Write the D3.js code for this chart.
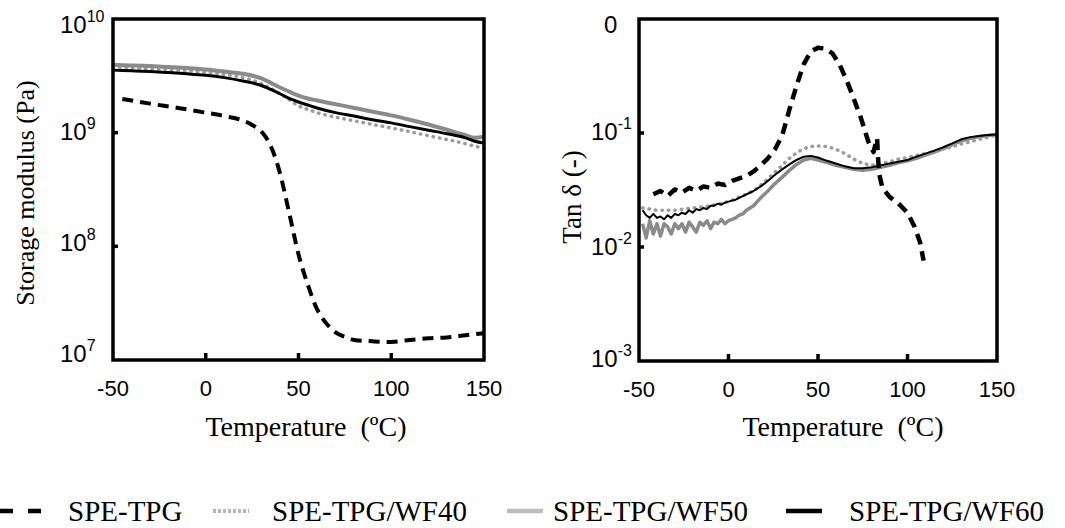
<!DOCTYPE html>
<html>
<head>
<meta charset="utf-8">
<script src="https://cdn.jsdelivr.net/npm/d3@7"></script>
<style>
  body { margin: 0; background: #fff; }
  svg { display: block; }
</style>
</head>
<body>
<script>
// storage modulus panel (Pa)
const tempsE = [-50,-40,-30,-20,-10,0,10,20,30,35,40,45,50,55,60,70,80,90,100,110,120,130,140,145,150];
const modWF50 = [3.95e9,3.9e9,3.85e9,3.78e9,3.7e9,3.6e9,3.45e9,3.3e9,3.0e9,2.75e9,2.5e9,2.3e9,2.12e9,2.0e9,1.92e9,1.78e9,1.65e9,1.53e9,1.42e9,1.3e9,1.18e9,1.06e9,9.5e8,9.0e8,9.2e8];
const modWF60 = [3.55e9,3.5e9,3.45e9,3.38e9,3.3e9,3.2e9,3.05e9,2.85e9,2.6e9,2.4e9,2.2e9,2.0e9,1.86e9,1.75e9,1.65e9,1.5e9,1.4e9,1.3e9,1.22e9,1.13e9,1.05e9,9.8e8,9.0e8,8.4e8,8.1e8];
const modWF40 = [3.8e9,3.72e9,3.65e9,3.58e9,3.5e9,3.4e9,3.25e9,3.05e9,2.7e9,2.45e9,2.2e9,1.95e9,1.72e9,1.6e9,1.5e9,1.37e9,1.27e9,1.18e9,1.1e9,1.02e9,9.4e8,8.7e8,8.0e8,7.6e8,7.3e8];
const tempsTPG = [-45,-30,-15,0,10,20,25,30,33,36,40,45,50,55,60,65,70,75,80,90,100,110,120,130,140,150];
const modTPG = [1.98e9,1.8e9,1.65e9,1.5e9,1.4e9,1.28e9,1.17e9,1.02e9,8.8e8,7e8,4.4e8,1.96e8,8.5e7,4.6e7,2.8e7,2.1e7,1.75e7,1.6e7,1.5e7,1.46e7,1.44e7,1.5e7,1.55e7,1.58e7,1.65e7,1.72e7];

// tan delta panel
const tempsT = [-48,-46,-44,-42,-40,-38,-36,-34,-32,-30,-28,-26,-24,-22,-20,-18,-16,-14,-12,-10,-8,-6,-4,-2,0,2,4,6,8,10,14,18,22,26,30,34,38,42,46,50,55,60,65,70,75,80,85,90,95,100,105,110,115,120,125,130,135,140,145,150];
const tanWF50 = [0.016,0.012,0.017,0.013,0.016,0.0125,0.016,0.015,0.013,0.016,0.0145,0.016,0.0135,0.0165,0.015,0.0135,0.0165,0.0155,0.017,0.0145,0.0165,0.016,0.0175,0.016,0.017,0.0175,0.018,0.019,0.0195,0.021,0.023,0.027,0.031,0.036,0.041,0.047,0.053,0.058,0.06,0.058,0.055,0.052,0.05,0.048,0.047,0.048,0.05,0.052,0.055,0.057,0.06,0.064,0.068,0.073,0.079,0.085,0.09,0.093,0.095,0.097];
const tanWF60 = [0.021,0.019,0.018,0.0195,0.018,0.0185,0.0175,0.019,0.018,0.0195,0.019,0.02,0.0195,0.021,0.02,0.0215,0.021,0.022,0.0215,0.023,0.023,0.024,0.0235,0.0245,0.025,0.0255,0.026,0.027,0.028,0.029,0.031,0.034,0.038,0.043,0.048,0.053,0.058,0.062,0.063,0.061,0.057,0.054,0.051,0.049,0.049,0.05,0.052,0.054,0.056,0.058,0.062,0.066,0.07,0.075,0.081,0.088,0.092,0.094,0.096,0.097];
const tempsT40 = [-48,-40,-30,-20,-10,0,5,10,15,20,25,30,35,40,45,50,55,60,65,70,75,80,85,90,95,100,110,120,130,140,150];
const tanWF40 = [0.022,0.021,0.021,0.022,0.023,0.025,0.027,0.029,0.032,0.037,0.044,0.052,0.062,0.07,0.076,0.077,0.076,0.072,0.066,0.059,0.054,0.052,0.054,0.056,0.059,0.061,0.066,0.072,0.08,0.088,0.096];
const tempsTTPG = [-42,-38,-34,-30,-26,-22,-18,-14,-10,-6,-2,2,6,10,14,18,22,26,30,34,38,42,46,50,54,58,62,66,70,74,78,81,83,84,86,90,95,100,104,107,109];
const tanTPG = [0.029,0.031,0.028,0.032,0.03,0.033,0.031,0.034,0.033,0.036,0.035,0.038,0.04,0.042,0.046,0.052,0.06,0.072,0.095,0.16,0.26,0.4,0.52,0.56,0.55,0.5,0.4,0.29,0.2,0.135,0.085,0.068,0.09,0.045,0.033,0.0275,0.024,0.02,0.015,0.011,0.0076];

const xTicks = [-50, 0, 50, 100, 150];
const seriesNames = ['SPE-TPG', 'SPE-TPG/WF40', 'SPE-TPG/WF50', 'SPE-TPG/WF60'];

const width = 1065, height = 528;
const sans = 'Liberation Sans, Arial, sans-serif';
const serif = 'Liberation Serif, Times New Roman, serif';

const styles = {
  'SPE-TPG': {stroke: '#000', width: 4, dash: '11,7', cap: 'butt'},
  'SPE-TPG/WF40': {stroke: '#9c9c9c', width: 3.5, dash: '0.5,6', cap: 'round'},
  'SPE-TPG/WF50': {stroke: '#8a8a8a', width: 4, dash: null, cap: 'butt'},
  'SPE-TPG/WF60': {stroke: '#000', width: 3, dash: null, cap: 'butt'}
};

const svg = d3.select('body').append('svg')
  .attr('width', width).attr('height', height);

function panel(opts) {
  const x = d3.scaleLinear().domain([-50, 150]).range([opts.left, opts.right]);
  const y = d3.scaleLog().domain(opts.yDomain).range([opts.bottom, opts.top]);
  const g = svg.append('g');

  const line = d3.line()
    .x(d => x(d[0]))
    .y(d => y(d[1]))
    .curve(opts.curve);

  opts.series.forEach(s => {
    const st = styles[s.name];
    g.append('path')
      .datum(d3.zip(s.t, s.v))
      .attr('d', line)
      .attr('fill', 'none')
      .attr('stroke', st.stroke)
      .attr('stroke-width', s.width || st.width)
      .attr('stroke-dasharray', st.dash)
      .attr('stroke-linecap', st.cap)
      .attr('stroke-linejoin', 'round');
  });

  // frame
  g.append('rect')
    .attr('x', opts.left).attr('y', opts.top)
    .attr('width', opts.right - opts.left).attr('height', opts.bottom - opts.top)
    .attr('fill', 'none').attr('stroke', '#000').attr('stroke-width', 3.5);

  // inner ticks
  g.selectAll('.xt').data([0, 50, 100]).enter().append('line')
    .attr('x1', d => x(d)).attr('x2', d => x(d))
    .attr('y1', opts.bottom).attr('y2', opts.bottom - 7)
    .attr('stroke', '#000').attr('stroke-width', 3.5);

  const yTickVals = opts.yTicks.slice(1, -1).map(e => Math.pow(10, e));
  g.selectAll('.yt').data(yTickVals).enter().append('line')
    .attr('x1', opts.left).attr('x2', opts.left + 5)
    .attr('y1', d => y(d)).attr('y2', d => y(d))
    .attr('stroke', '#000').attr('stroke-width', 3.5);

  // x tick labels
  g.selectAll('.xl').data(xTicks).enter().append('text')
    .attr('x', d => x(d))
    .attr('y', opts.bottom + 36)
    .attr('text-anchor', 'middle')
    .attr('font-family', sans).attr('font-size', 22)
    .text(d => d);

  // y tick labels, 10 with superscript exponent
  opts.yTicks.forEach((e, i) => {
    const t = g.append('text')
      .attr('x', opts.labelX)
      .attr('y', y(Math.pow(10, e)) + opts.labelOff[i])
      .attr('font-family', sans).attr('font-size', 24);
    if (e === 0 && opts.zeroPlain) {
      t.attr('x', opts.labelX + 13).text('0');
      return;
    }
    t.append('tspan').text('10');
    t.append('tspan').attr('dy', -11).attr('font-size', 16).text(e);
  });

  // axis titles
  svg.append('text')
    .attr('transform', `translate(${opts.yTitleX},${opts.yTitleY}) rotate(-90)`)
    .attr('text-anchor', 'middle')
    .attr('font-family', serif).attr('font-size', opts.yTitleSize)
    .text(opts.yTitle);

  svg.append('text')
    .attr('x', opts.xTitleX).attr('y', 436)
    .attr('text-anchor', 'middle')
    .attr('font-family', serif).attr('font-size', 28)
    .style('white-space', 'pre')
    .text('Temperature  (\u00baC)');
}

panel({
  left: 113, right: 484, top: 19, bottom: 360,
  yDomain: [1e7, 1e10], yTicks: [10, 9, 8, 7], labelX: 60,
  labelOff: [14, 7, 5, 2],
  curve: d3.curveMonotoneX,
  yTitle: 'Storage modulus (Pa)', yTitleX: 34, yTitleY: 193, yTitleSize: 26,
  xTitleX: 306,
  series: [
    {name: 'SPE-TPG', t: tempsTPG, v: modTPG},
    {name: 'SPE-TPG/WF40', t: tempsE, v: modWF40},
    {name: 'SPE-TPG/WF50', t: tempsE, v: modWF50},
    {name: 'SPE-TPG/WF60', t: tempsE, v: modWF60}
  ]
});

panel({
  left: 639, right: 997, top: 19, bottom: 361,
  yDomain: [1e-3, 1], yTicks: [0, -1, -2, -3], labelX: 591,
  labelOff: [14, 7, 8, 6], zeroPlain: true,
  curve: d3.curveLinear,
  yTitle: 'Tan \u03b4 (-)', yTitleX: 581, yTitleY: 197, yTitleSize: 27,
  xTitleX: 843,
  series: [
    {name: 'SPE-TPG/WF50', t: tempsT, v: tanWF50, width: 3.5},
    {name: 'SPE-TPG/WF40', t: tempsT40, v: tanWF40},
    {name: 'SPE-TPG/WF60', t: tempsT, v: tanWF60, width: 2},
    {name: 'SPE-TPG', t: tempsTTPG, v: tanTPG, width: 4.5}
  ]
});

// legend
const legendX = [0, 213, 507, 786];
const legendTextX = [68, 272, 553, 849];
const lg = svg.append('g');
seriesNames.forEach((name, i) => {
  const st = styles[name];
  lg.append('line')
    .attr('x1', legendX[i]).attr('x2', legendX[i] + (i === 0 ? 45 : 36))
    .attr('y1', 511).attr('y2', 511)
    .attr('stroke', name === 'SPE-TPG/WF50' ? '#bdbdbd' : (name === 'SPE-TPG/WF40' ? '#b4b4b4' : st.stroke))
    .attr('stroke-width', i === 1 ? 4 : 4.5)
    .attr('stroke-dasharray', i === 0 ? '13,15' : (i === 1 ? '3,2' : null));
  lg.append('text')
    .attr('x', legendTextX[i]).attr('y', 521)
    .attr('font-family', serif).attr('font-size', 29)
    .text(name);
});
</script>
</body>
</html>
